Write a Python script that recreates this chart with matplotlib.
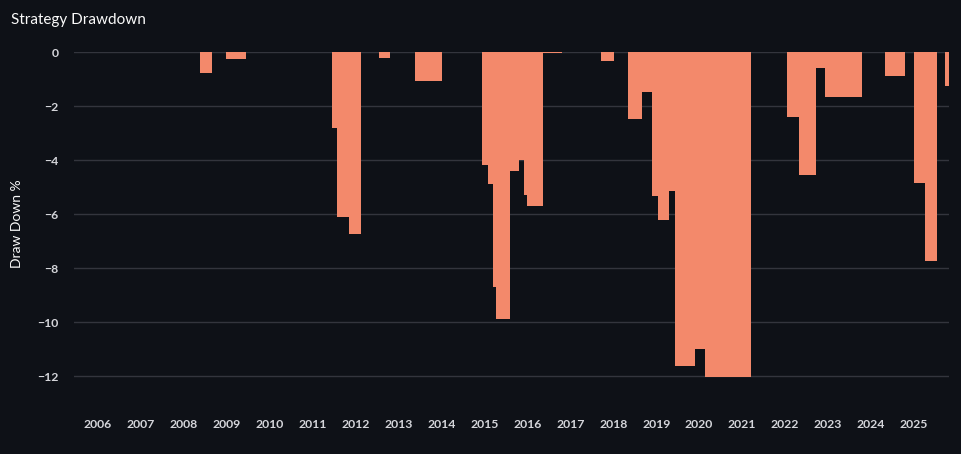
import matplotlib
matplotlib.use("Agg")
import matplotlib.pyplot as plt
import matplotlib.dates as mdates
import numpy as np
import pandas as pd

# Drawdown episodes: start date, end date, drawdown value (%)
seg_start = ["2008-05-18", "2008-12-20", "2011-06-18", "2011-07-28", "2011-11-03",
             "2012-07-19", "2013-05-16", "2014-12-12", "2015-01-30", "2015-03-11",
             "2015-04-09", "2015-08-08", "2015-10-23", "2015-12-02", "2016-01-01",
             "2016-05-15", "2017-09-16", "2018-05-05", "2018-08-29", "2018-11-28",
             "2019-01-15", "2019-04-20", "2019-06-06", "2019-11-28", "2020-02-20",
             "2022-01-19", "2022-04-27", "2022-09-20", "2022-12-09", "2024-05-04",
             "2025-01-05", "2025-04-02", "2025-09-20"]
seg_end = ["2008-08-28", "2009-06-13", "2011-07-28", "2011-11-03", "2012-02-17",
           "2012-10-19", "2014-01-08", "2015-01-30", "2015-03-11", "2015-04-09",
           "2015-08-08", "2015-10-23", "2015-12-02", "2016-01-01", "2016-05-15",
           "2016-10-23", "2018-01-11", "2018-08-29", "2018-11-28", "2019-01-15",
           "2019-04-20", "2019-06-06", "2019-11-28", "2020-02-20", "2021-03-18",
           "2022-04-27", "2022-09-20", "2022-12-09", "2023-10-19", "2024-10-16",
           "2025-04-02", "2025-07-16", "2025-10-27"]
drawdown = [-0.77, -0.27, -2.83, -6.10, -6.74,
            -0.21, -1.09, -4.19, -4.90, -8.69,
            -9.90, -4.39, -3.99, -5.31, -5.70,
            -0.03, -0.33, -2.49, -1.49, -5.32,
            -6.22, -5.14, -11.62, -11.01, -12.05,
            -2.42, -4.57, -0.59, -1.68, -0.90,
            -4.85, -7.73, -1.26]
year_ticks = list(range(2006, 2026))
y_ticks = [0, -2, -4, -6, -8, -10, -12]

BG = "#0e1117"
BAR = "#f3896b"
GRID = "#33353d"
TXT = "#d4d5da"

plt.rcParams["font.family"] = ["Lato", "DejaVu Sans"]

fig = plt.figure(figsize=(9.62, 4.54), dpi=100, facecolor=BG)
ax = fig.add_axes([74 / 962, (454 - 394.4) / 454, (949 - 74) / 962, (394.4 - 52) / 454])
ax.set_facecolor(BG)

starts = mdates.date2num(pd.to_datetime(seg_start))
ends = mdates.date2num(pd.to_datetime(seg_end))
ax.bar(starts, drawdown, width=ends - starts, align="edge", color=BAR,
       linewidth=0, zorder=3)

ax.set_xlim(mdates.date2num(pd.Timestamp("2005-06-10")),
            mdates.date2num(pd.Timestamp("2025-10-27")))
ax.set_ylim(-12.68, 0)

ax.set_xticks(mdates.date2num(pd.to_datetime([f"{y}-01-01" for y in year_ticks])))
ax.set_xticklabels([str(y) for y in year_ticks])
ax.set_yticks(y_ticks)
ax.set_yticklabels([f"\u2212{abs(v)}" if v < 0 else str(v) for v in y_ticks])

ax.grid(axis="y", color=GRID, linewidth=1, zorder=0)
ax.grid(axis="x", visible=False)
for s in ax.spines.values():
    s.set_visible(False)
ax.tick_params(axis="both", length=0, colors=TXT, labelsize=8.8)
ax.tick_params(axis="y", pad=11)
ax.tick_params(axis="x", pad=18)
for lab in ax.get_xticklabels() + ax.get_yticklabels():
    lab.set_fontweight("bold")

ax.set_ylabel("Draw Down %", color="#fafafa", fontsize=10, labelpad=10)
fig.text(11 / 962, 1 - 20 / 454, "Strategy Drawdown", color="#fafafa",
         fontsize=11, va="center", ha="left")

fig.savefig("out.png", dpi=100, facecolor=BG)
